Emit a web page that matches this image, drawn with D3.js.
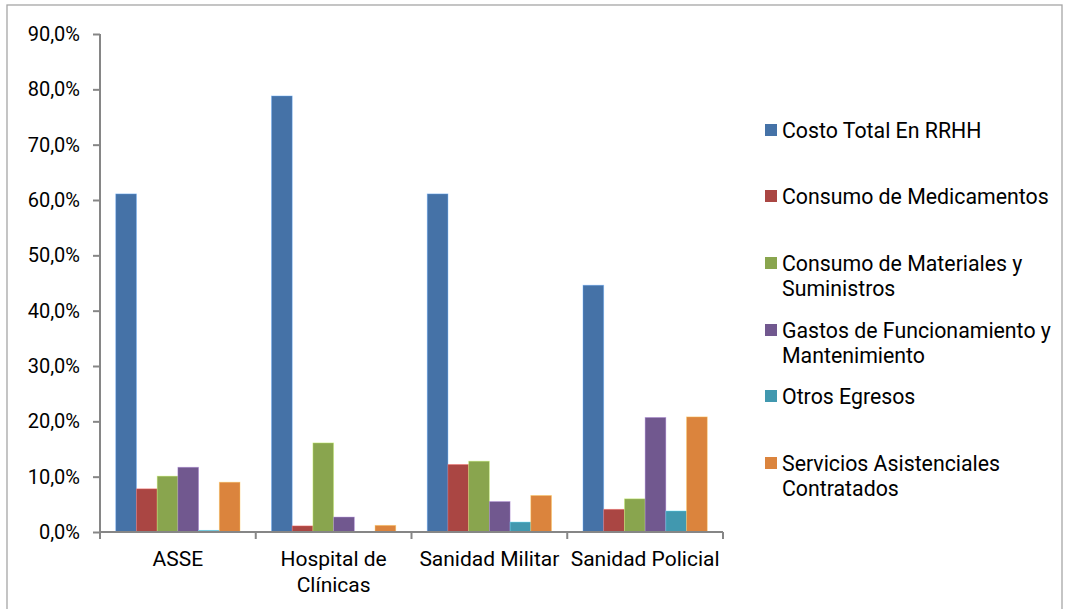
<!DOCTYPE html>
<html>
<head>
<meta charset="utf-8">
<script src="https://cdn.jsdelivr.net/npm/d3@7"></script>
<style>
  html, body { margin: 0; padding: 0; background: #fff; }
  svg { display: block; font-family: Roboto, "Noto Sans", sans-serif; }
</style>
</head>
<body>
<svg id="chart" width="1068" height="609"></svg>
<script>
const categories = ["ASSE", "Hospital de Clínicas", "Sanidad Militar", "Sanidad Policial"];
const categoryLines = [["ASSE"], ["Hospital de", "Clínicas"], ["Sanidad Militar"], ["Sanidad Policial"]];
const seriesNames = [
  "Costo Total En RRHH",
  "Consumo de Medicamentos",
  "Consumo de Materiales y Suministros",
  "Gastos de Funcionamiento y Mantenimiento",
  "Otros Egresos",
  "Servicios Asistenciales Contratados"
];
const legendLines = [
  ["Costo Total En RRHH"],
  ["Consumo de Medicamentos"],
  ["Consumo de Materiales y", "Suministros"],
  ["Gastos de Funcionamiento y", "Mantenimiento"],
  ["Otros Egresos"],
  ["Servicios Asistenciales", "Contratados"]
];
const colors = ["#4572A7", "#AA4643", "#89A54E", "#71588F", "#4198AF", "#DB843D"];
// values in %, one array per series, ordered by categories
const costoRRHH      = [61.1, 78.8, 61.1, 44.6];
const medicamentos   = [7.8, 1.1, 12.2, 4.1];
const materiales     = [10.1, 16.1, 12.8, 6.0];
const funcionamiento = [11.7, 2.7, 5.5, 20.7];
const otros          = [0.3, 0.0, 1.8, 3.8];
const servicios      = [9.0, 1.2, 6.6, 20.8];
const seriesValues = [costoRRHH, medicamentos, materiales, funcionamiento, otros, servicios];
const yTicks = [0, 10, 20, 30, 40, 50, 60, 70, 80, 90];

const svg = d3.select("#chart");
const axisColor = "#868686";

// outer frame
svg.append("rect").attr("x", 7).attr("y", 5).attr("width", 1055).attr("height", 620)
  .attr("fill", "none").attr("stroke", "#a6a6a6").attr("stroke-width", 1.3);

const plot = { left: 100, right: 723, top: 34, bottom: 532 };

const x0 = d3.scaleBand().domain(categories).range([plot.left, plot.right]).paddingInner(0).paddingOuter(0);
const x1 = d3.scaleBand().domain(seriesNames).range([0, x0.bandwidth()]).paddingInner(0).paddingOuter(0.76);
const y = d3.scaleLinear().domain([0, 90]).range([plot.bottom, plot.top]);

const locale = d3.formatLocale({ decimal: ",", thousands: ".", grouping: [3], currency: ["", ""] });
const fmt = v => locale.format(".1f")(v) + "%";

// bars
const groups = svg.append("g").selectAll("g").data(categories).join("g")
  .attr("transform", d => `translate(${x0(d)},0)`);
groups.selectAll("rect")
  .data((c, ci) => seriesNames.map((s, si) => ({ s, si, v: seriesValues[si][ci] })))
  .join("rect")
  .attr("x", d => x1(d.s))
  .attr("width", x1.bandwidth())
  .attr("y", d => y(d.v))
  .attr("height", d => y(0) - y(d.v))
  .attr("fill", d => colors[d.si])
  .attr("stroke", d => d3.color(colors[d.si]).brighter(1.2))
  .attr("stroke-opacity", 0.5)
  .attr("stroke-width", 0.8);

// y axis
const yAxis = svg.append("g").attr("transform", `translate(${plot.left},0)`)
  .call(d3.axisLeft(y).tickValues(yTicks).tickFormat(fmt).tickSize(7).tickPadding(13));
yAxis.select(".domain").attr("stroke", axisColor).attr("stroke-width", 2)
  .attr("d", `M0,${plot.top}V${plot.bottom}`);
yAxis.selectAll(".tick line").attr("stroke", axisColor).attr("stroke-width", 2);
yAxis.selectAll(".tick text").attr("font-size", 20).attr("fill", "#000")
  .attr("font-family", "Roboto, 'Noto Sans', sans-serif");

// x axis
const xAxis = svg.append("g").attr("transform", `translate(0,${plot.bottom})`)
  .call(d3.axisBottom(x0).tickSize(0).tickFormat(""));
xAxis.select(".domain").attr("stroke", axisColor).attr("stroke-width", 2)
  .attr("d", `M${plot.left},0H${plot.right}`);
xAxis.selectAll(".tick").remove();
const boundaries = categories.map(c => x0(c)).concat([x0(categories[categories.length - 1]) + x0.bandwidth()]);
xAxis.selectAll("line.bt").data(boundaries).join("line").attr("class", "bt")
  .attr("x1", d => d).attr("x2", d => d).attr("y1", 0).attr("y2", 7)
  .attr("stroke", axisColor).attr("stroke-width", 2);

// category labels
const catLabels = svg.append("g").selectAll("text").data(categories).join("text")
  .attr("text-anchor", "middle")
  .attr("font-size", 21)
  .attr("fill", "#000")
  .attr("x", d => x0(d) + x0.bandwidth() / 2)
  .attr("y", 566);
catLabels.each(function (d, i) {
  d3.select(this).selectAll("tspan").data(categoryLines[i]).join("tspan")
    .attr("x", x0(d) + x0.bandwidth() / 2)
    .attr("dy", (t, j) => j === 0 ? 0 : 26)
    .text(t => t);
});

// legend
const legendY = [130, 196, 263, 330, 396, 463];
const legend = svg.append("g").selectAll("g").data(seriesNames).join("g")
  .attr("transform", (d, i) => `translate(765,${legendY[i]})`);
legend.append("rect").attr("x", 0).attr("y", -6).attr("width", 12).attr("height", 12)
  .attr("fill", (d, i) => colors[i]);
legend.append("text").attr("x", 17).attr("y", 7.5).attr("font-size", 21.3).attr("fill", "#000")
  .each(function (d, i) {
    d3.select(this).selectAll("tspan").data(legendLines[i]).join("tspan")
      .attr("x", 17).attr("dy", (t, j) => j === 0 ? 0 : 25.5).text(t => t);
  });
</script>
</body>
</html>
